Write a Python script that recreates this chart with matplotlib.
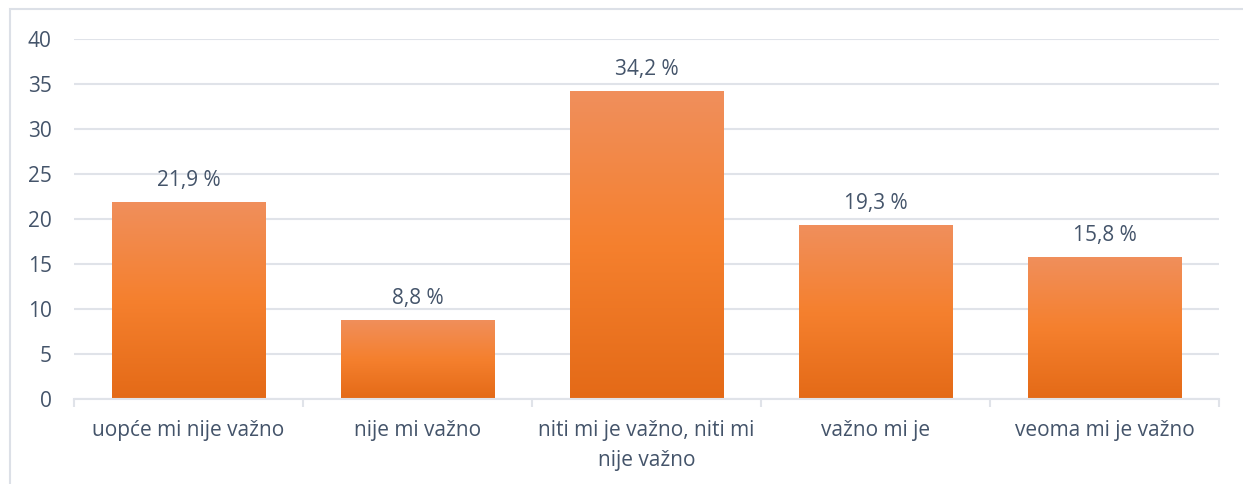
import numpy as np
import matplotlib.pyplot as plt
from matplotlib.colors import LinearSegmentedColormap
from matplotlib.patches import Rectangle

# data
categories = ['uopće mi nije važno', 'nije mi važno',
              'niti mi je važno, niti mi\nnije važno', 'važno mi je',
              'veoma mi je važno']
values = [21.9, 8.8, 34.2, 19.3, 15.8]
labels = ['21,9 %', '8,8 %', '34,2 %', '19,3 %', '15,8 %']

txt = '#44546A'
grid = '#E0E3E9'
plt.rcParams['font.family'] = ['Open Sans', 'DejaVu Sans']
fs = 15

fig = plt.figure(figsize=(12.43, 4.84), dpi=100)
ax = fig.add_axes([74/1243, 1 - 399/484, (1219-74)/1243, (399-39)/484])

# outer chart border (only left/top visible in the reference)
fig.patches.append(Rectangle((10/1243, -0.1), 1.2, 1 - 9/484 + 0.1,
                             transform=fig.transFigure, fill=False,
                             ec='#DCE0E7', lw=1.5))

x = np.arange(len(values))
bars = ax.bar(x, values, width=0.67, color='none', zorder=2)

cmap = LinearSegmentedColormap.from_list('og', ['#E46A17', '#F5802E', '#F08F5C'])
grad = np.linspace(0, 1, 256).reshape(-1, 1)
for b in bars:
    bx, bw, bh = b.get_x(), b.get_width(), b.get_height()
    im = ax.imshow(grad, cmap=cmap, aspect='auto', origin='lower',
                   extent=[bx, bx + bw, 0, bh], zorder=2)
    im.set_clip_path(b)

for xi, v, lab in zip(x, values, labels):
    ax.annotate(lab, (xi, v), xytext=(0, 8), textcoords='offset points',
                ha='center', va='bottom', fontsize=fs, color=txt)

ax.set_xlim(-0.5, len(values) - 0.5)
ax.set_ylim(0, 40)
ax.set_yticks(range(0, 41, 5))
ax.set_xticks(x)
ax.set_xticklabels(categories, fontsize=fs, color=txt, linespacing=1.55)
ax.set_xticks(np.arange(-0.5, len(values), 1), minor=True)
ax.tick_params(axis='x', which='major', length=0, pad=15)
ax.tick_params(axis='x', which='minor', length=6, color=grid, width=1.5)
ax.tick_params(axis='y', length=0, labelsize=fs, labelcolor=txt, pad=16)

ax.yaxis.grid(True, color=grid, lw=1.5)
ax.set_axisbelow(True)
for s in ['top', 'right', 'left']:
    ax.spines[s].set_visible(False)
ax.spines['bottom'].set_color(grid)
ax.spines['bottom'].set_linewidth(1.5)

fig.savefig('out.png', dpi=100)
